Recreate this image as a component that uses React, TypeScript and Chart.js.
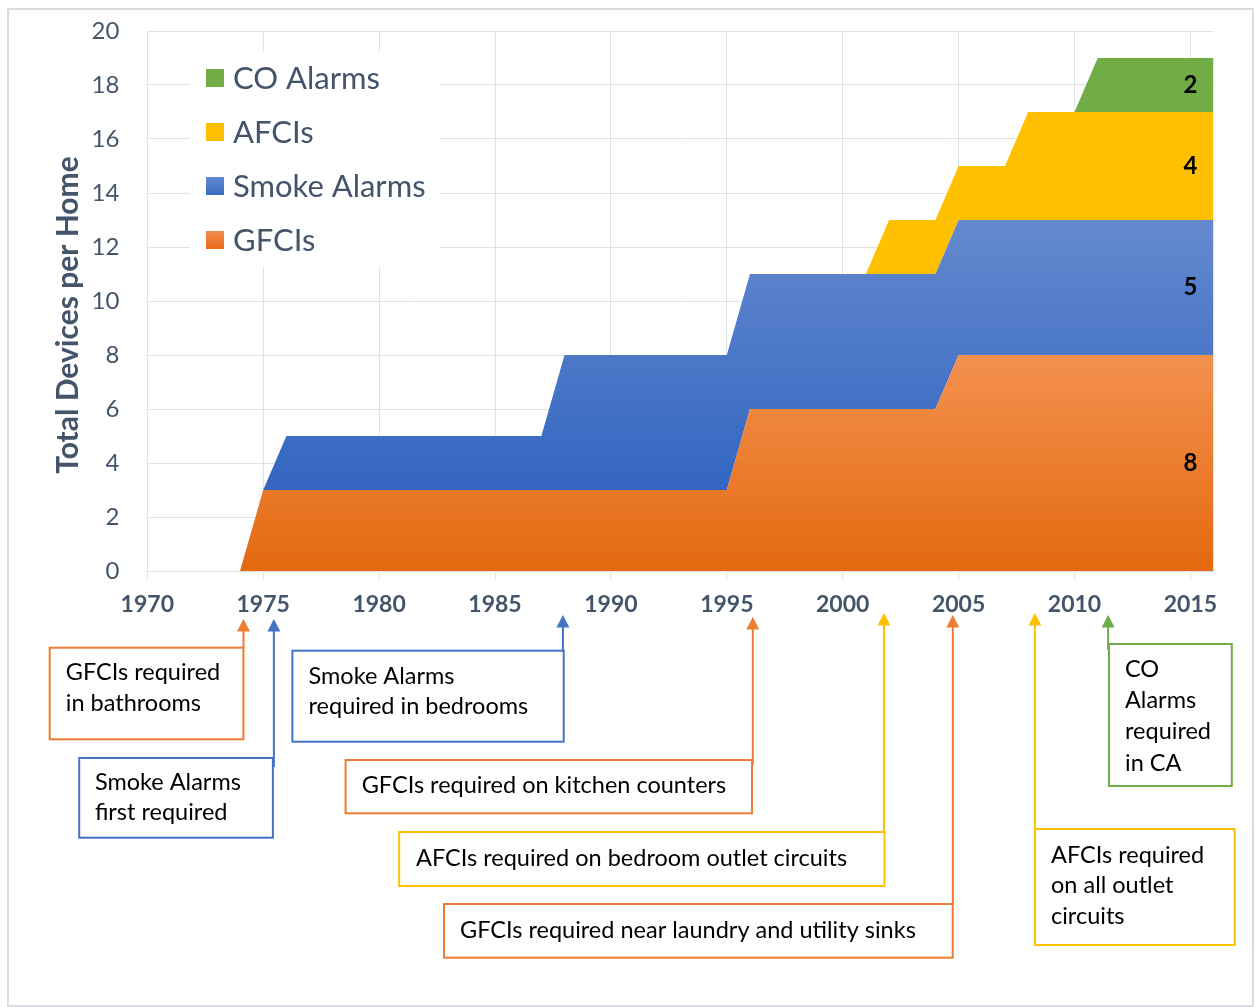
import React, { useEffect, useRef } from 'react';
import { Chart, registerables } from 'chart.js';

Chart.register(...registerables);

// ---------- data ----------
const years = [
  1970, 1971, 1972, 1973, 1974, 1975, 1976, 1977, 1978, 1979,
  1980, 1981, 1982, 1983, 1984, 1985, 1986, 1987, 1988, 1989,
  1990, 1991, 1992, 1993, 1994, 1995, 1996, 1997, 1998, 1999,
  2000, 2001, 2002, 2003, 2004, 2005, 2006, 2007, 2008, 2009,
  2010, 2011, 2012, 2013, 2014, 2015, 2016,
];
const gfcis = [
  0, 0, 0, 0, 0, 3, 3, 3, 3, 3,
  3, 3, 3, 3, 3, 3, 3, 3, 3, 3,
  3, 3, 3, 3, 3, 3, 6, 6, 6, 6,
  6, 6, 6, 6, 6, 8, 8, 8, 8, 8,
  8, 8, 8, 8, 8, 8, 8,
];
const smokeAlarms = [
  0, 0, 0, 0, 0, 0, 2, 2, 2, 2,
  2, 2, 2, 2, 2, 2, 2, 2, 5, 5,
  5, 5, 5, 5, 5, 5, 5, 5, 5, 5,
  5, 5, 5, 5, 5, 5, 5, 5, 5, 5,
  5, 5, 5, 5, 5, 5, 5,
];
const afcis = [
  0, 0, 0, 0, 0, 0, 0, 0, 0, 0,
  0, 0, 0, 0, 0, 0, 0, 0, 0, 0,
  0, 0, 0, 0, 0, 0, 0, 0, 0, 0,
  0, 0, 2, 2, 2, 2, 2, 2, 4, 4,
  4, 4, 4, 4, 4, 4, 4,
];
const coAlarms = [
  0, 0, 0, 0, 0, 0, 0, 0, 0, 0,
  0, 0, 0, 0, 0, 0, 0, 0, 0, 0,
  0, 0, 0, 0, 0, 0, 0, 0, 0, 0,
  0, 0, 0, 0, 0, 0, 0, 0, 0, 0,
  0, 2, 2, 2, 2, 2, 2,
];
const seriesNames = ['GFCIs', 'Smoke Alarms', 'AFCIs', 'CO Alarms'];
const labelYear = 2015;
const yTicks = [0, 2, 4, 6, 8, 10, 12, 14, 16, 18, 20];
const xTickStep = 5;

// annotation anchors (year on the axis) and texts
const noteYears = [1974.15, 1975.46, 1987.93, 1996.12, 2001.78, 2004.75, 2008.29, 2011.45];
const noteTexts = [
  ['GFCIs required', 'in bathrooms'],
  ['Smoke Alarms', 'first required'],
  ['Smoke Alarms', 'required in bedrooms'],
  ['GFCIs required on kitchen counters'],
  ['AFCIs required on bedroom outlet circuits'],
  ['GFCIs required near laundry and utility sinks'],
  ['AFCIs required', 'on all outlet', 'circuits'],
  ['CO', 'Alarms', 'required', 'in CA'],
];

// ---------- layout / style ----------
const W = 1256;
const H = 1007;
const TEXT = '#44546A';
const GRID = '#DEE2E9';
const FONT = 'Lato';
const C_ORANGE = '#ED7D31';
const C_BLUE = '#4472C4';
const C_YELLOW = '#FFC000';
const C_GREEN = '#70AD47';

const noteLayout = [
  { color: C_ORANGE, l: 49.7, r: 243.4, t: 647.7, b: 739.3, tx: 65.8, ly: [672.7, 703.3], tip: 619, end: 647.7 },
  { color: C_BLUE, l: 79.2, r: 272.9, t: 758, b: 837.7, tx: 94.9, ly: [782.3, 812.3], tip: 619, end: 767 },
  { color: C_BLUE, l: 292.4, r: 563.7, t: 650.7, b: 741.7, tx: 308.5, ly: [676, 706.7], tip: 615, end: 651 },
  { color: C_ORANGE, l: 345.6, r: 752, t: 760, b: 813.3, tx: 361.7, ly: [785], tip: 617, end: 765 },
  { color: C_YELLOW, l: 399.2, r: 884.5, t: 832, b: 886, tx: 416, ly: [858], tip: 613, end: 832 },
  { color: C_ORANGE, l: 444, r: 952.7, t: 904, b: 957.7, tx: 460, ly: [930], tip: 615, end: 904 },
  { color: C_YELLOW, l: 1035, r: 1234.7, t: 829, b: 945, tx: 1051, ly: [855, 885.7, 916.7], tip: 613, end: 862 },
  { color: C_GREEN, l: 1109, r: 1231.8, t: 644, b: 786, tx: 1125, ly: [669, 700, 731.7, 763.3], tip: 615, end: 650 },
];

const legendItems = [
  { name: seriesNames[3], c1: '#70AD47', c2: '#70AD47' },
  { name: seriesNames[2], c1: '#FFC000', c2: '#FFC000' },
  { name: seriesNames[1], c1: '#618ad0', c2: '#3a6bc4' },
  { name: seriesNames[0], c1: '#f18c4d', c2: '#e56b17' },
];

function toPoints(vals: number[]) {
  return years.map((x, i) => ({ x, y: vals[i] }));
}

function gradFor(chart: any, topVal: number, botVal: number, cTop: string, cBot: string) {
  const { ctx, chartArea, scales } = chart;
  if (!chartArea || !scales || !scales.y) return cBot;
  const y0 = scales.y.getPixelForValue(topVal);
  const y1 = scales.y.getPixelForValue(botVal);
  const g = ctx.createLinearGradient(0, y0, 0, y1);
  g.addColorStop(0, cTop);
  g.addColorStop(1, cBot);
  return g;
}

const decorPlugin = {
  id: 'decor',
  beforeDatasetsDraw(chart: any) {
    const ctx = chart.ctx;
    ctx.save();
    // legend background (hides gridlines)
    ctx.fillStyle = '#ffffff';
    ctx.fillRect(190, 52, 250, 215);
    const ys = [78, 132, 186, 240];
    legendItems.forEach((it, i) => {
      const y = ys[i];
      const g = ctx.createLinearGradient(0, y - 9, 0, y + 9);
      g.addColorStop(0, it.c1);
      g.addColorStop(1, it.c2);
      ctx.fillStyle = g;
      ctx.fillRect(206, y - 9, 18, 18);
      ctx.fillStyle = TEXT;
      ctx.font = `31px ${FONT}`;
      ctx.textAlign = 'left';
      ctx.textBaseline = 'middle';
      ctx.fillText(it.name, 233, y + 1);
    });
    ctx.restore();
  },
  afterDraw(chart: any) {
    const ctx = chart.ctx;
    const xs = chart.scales.x;
    const ysc = chart.scales.y;
    ctx.save();

    // outer frame
    ctx.strokeStyle = '#D9DDE3';
    ctx.lineWidth = 2;
    ctx.strokeRect(8, 9, 1245, 997);

    // y axis title
    ctx.save();
    ctx.translate(68, 315);
    ctx.rotate(-Math.PI / 2);
    ctx.fillStyle = TEXT;
    ctx.font = `bold 30px ${FONT}`;
    ctx.textAlign = 'center';
    ctx.textBaseline = 'middle';
    ctx.fillText('Total Devices per Home', 0, 0);
    ctx.restore();

    // data labels at 2015
    const idx = years.indexOf(labelYear);
    const stacks = [gfcis, smokeAlarms, afcis, coAlarms];
    let base = 0;
    ctx.font = `bold 24px ${FONT}`;
    ctx.fillStyle = '#000';
    ctx.textAlign = 'center';
    ctx.textBaseline = 'middle';
    stacks.forEach((arr) => {
      const v = arr[idx];
      const px = xs.getPixelForValue(labelYear);
      const py = ysc.getPixelForValue(base + v / 2);
      ctx.fillText(String(v), px, py);
      base += v;
    });

    // annotations
    noteLayout.forEach((n, i) => {
      const ax = xs.getPixelForValue(noteYears[i]);
      ctx.strokeStyle = n.color;
      ctx.fillStyle = n.color;
      ctx.lineWidth = 2;
      ctx.beginPath();
      ctx.moveTo(ax, n.tip + 11);
      ctx.lineTo(ax, n.end);
      ctx.stroke();
      ctx.beginPath();
      ctx.moveTo(ax, n.tip);
      ctx.lineTo(ax - 6.5, n.tip + 12.5);
      ctx.lineTo(ax + 6.5, n.tip + 12.5);
      ctx.closePath();
      ctx.fill();
      ctx.strokeRect(n.l, n.t, n.r - n.l, n.b - n.t);
      ctx.fillStyle = '#000';
      ctx.font = `23.5px ${FONT}`;
      ctx.textAlign = 'left';
      ctx.textBaseline = 'middle';
      noteTexts[i].forEach((line, j) => {
        ctx.fillText(line, n.tx, n.ly[j]);
      });
    });

    ctx.restore();
  },
};

export default function App() {
  const ref = useRef<HTMLCanvasElement | null>(null);

  useEffect(() => {
    if (!ref.current) return;
    const gfciTop = Math.max(...gfcis);
    const smokeTop = Math.max(...years.map((_, i) => gfcis[i] + smokeAlarms[i]));
    const smokeBot = Math.min(...years.map((_, i) => (smokeAlarms[i] > 0 ? gfcis[i] : Infinity)));

    const chart = new Chart(ref.current, {
      type: 'line',
      data: {
        datasets: [
          {
            label: seriesNames[0],
            data: toPoints(gfcis),
            fill: 'origin',
            backgroundColor: (c: any) => gradFor(c.chart, gfciTop, 0, '#F4914F', '#E36910'),
            borderWidth: 0,
            pointRadius: 0,
            tension: 0,
          },
          {
            label: seriesNames[1],
            data: toPoints(smokeAlarms),
            fill: '-1',
            backgroundColor: (c: any) => gradFor(c.chart, smokeTop, smokeBot, '#6489CE', '#3366C1'),
            borderWidth: 0,
            pointRadius: 0,
            tension: 0,
          },
          {
            label: seriesNames[2],
            data: toPoints(afcis),
            fill: '-1',
            backgroundColor: C_YELLOW,
            borderWidth: 0,
            pointRadius: 0,
            tension: 0,
          },
          {
            label: seriesNames[3],
            data: toPoints(coAlarms),
            fill: '-1',
            backgroundColor: C_GREEN,
            borderWidth: 0,
            pointRadius: 0,
            tension: 0,
          },
        ],
      },
      options: {
        responsive: false,
        animation: false,
        devicePixelRatio: 1,
        layout: { padding: { left: 0, right: 42.4, top: 31, bottom: 376 } },
        plugins: {
          legend: { display: false },
          tooltip: { enabled: false },
          title: { display: false },
        },
        scales: {
          x: {
            type: 'linear',
            min: years[0],
            max: years[years.length - 1],
            afterFit: (s: any) => {
              s.height = 60;
              s.paddingLeft = 0;
              s.paddingRight = 0;
            },
            ticks: {
              stepSize: xTickStep,
              includeBounds: false,
              autoSkip: false,
              maxRotation: 0,
              color: TEXT,
              font: { family: FONT, size: 23, weight: 'bold' },
              padding: 11,
              callback: (v: any) => String(v),
            },
            grid: { color: GRID, lineWidth: 1, tickLength: 9, drawTicks: true },
            border: { color: GRID, width: 1 },
          },
          y: {
            stacked: true,
            min: yTicks[0],
            max: yTicks[yTicks.length - 1],
            afterFit: (s: any) => {
              s.width = 147.3;
              s.paddingTop = 0;
              s.paddingBottom = 0;
            },
            afterBuildTicks: (s: any) => {
              s.ticks = yTicks.map((v) => ({ value: v }));
            },
            ticks: {
              color: TEXT,
              font: { family: FONT, size: 24 },
              padding: 28,
            },
            grid: { color: GRID, lineWidth: 1, drawTicks: false },
            border: { color: GRID, width: 1 },
          },
        },
      },
      plugins: [decorPlugin],
    });
    return () => chart.destroy();
  }, []);

  return (
    <div style={{ position: 'fixed', left: 0, top: 0, width: W, height: H, background: '#fff' }}>
      <canvas ref={ref} width={W} height={H} style={{ display: 'block', width: W, height: H }} />
    </div>
  );
}
